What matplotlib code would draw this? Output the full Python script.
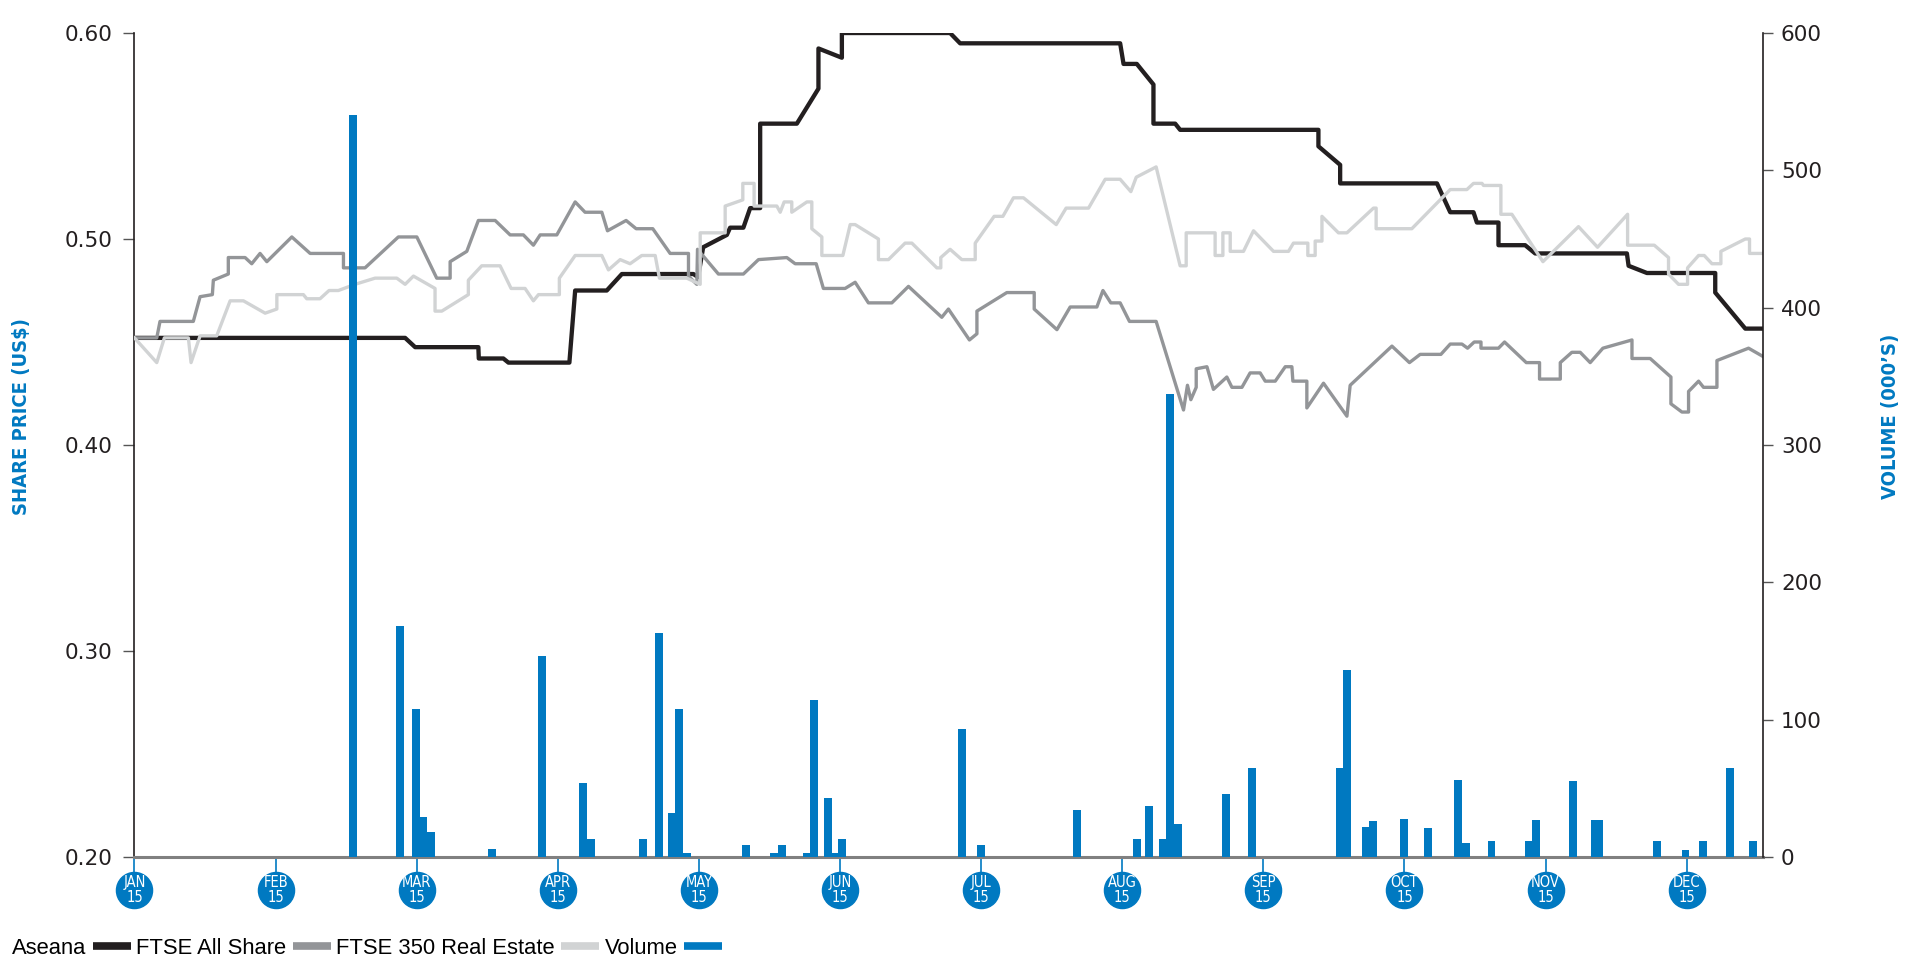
import matplotlib.pyplot as plt
from matplotlib.lines import Line2D

### values, x = months after 15 Jan (0 = JAN 15, 1 = FEB 15 ...)
aseana = [(0, 0.452), (1.918, 0.452), (1.989, 0.4475), (2.437, 0.4475), (2.44, 0.442),
          (2.614, 0.442), (2.650, 0.440), (3.082, 0.440), (3.123, 0.475), (3.347, 0.475),
          (3.454, 0.483), (3.961, 0.483), (3.994, 0.4815), (4.030, 0.496), (4.198, 0.502),
          (4.221, 0.5055), (4.315, 0.5055), (4.363, 0.515), (4.434, 0.515), (4.434, 0.556),
          (4.694, 0.556), (4.847, 0.573), (4.847, 0.5925), (5.013, 0.588), (5.013, 0.600),
          (5.780, 0.600), (5.851, 0.595), (6.985, 0.595), (7.009, 0.585), (7.103, 0.585),
          (7.221, 0.575), (7.221, 0.556), (7.375, 0.556), (7.410, 0.553), (8.390, 0.553),
          (8.390, 0.545), (8.544, 0.536), (8.544, 0.527), (9.230, 0.527), (9.324, 0.513),
          (9.489, 0.513), (9.513, 0.508), (9.666, 0.508), (9.666, 0.497), (9.855, 0.497),
          (9.926, 0.493), (10.576, 0.493), (10.588, 0.487), (10.718, 0.4835), (11.202, 0.4835),
          (11.202, 0.474), (11.415, 0.4565), (11.54, 0.4565)]

ftse_all = [(0, 0.452), (0.158, 0.452), (0.181, 0.460), (0.417, 0.460), (0.465, 0.472),
            (0.552, 0.473), (0.559, 0.480), (0.665, 0.483), (0.665, 0.491), (0.784, 0.491),
            (0.831, 0.488), (0.890, 0.493), (0.938, 0.489), (1.115, 0.501), (1.245, 0.493),
            (1.481, 0.493), (1.481, 0.486), (1.634, 0.486), (1.870, 0.501), (2.001, 0.501),
            (2.142, 0.481), (2.237, 0.481), (2.237, 0.489), (2.355, 0.494), (2.437, 0.509),
            (2.556, 0.509), (2.662, 0.502), (2.756, 0.502), (2.827, 0.497), (2.875, 0.502),
            (2.993, 0.502), (3.123, 0.518), (3.193, 0.513), (3.312, 0.513), (3.352, 0.504),
            (3.484, 0.509), (3.555, 0.505), (3.673, 0.505), (3.796, 0.493), (3.926, 0.493),
            (3.926, 0.482), (3.985, 0.478), (3.990, 0.495), (4.138, 0.483), (4.315, 0.483),
            (4.422, 0.490), (4.623, 0.491), (4.682, 0.488), (4.831, 0.488), (4.882, 0.476),
            (5.036, 0.476), (5.107, 0.479), (5.201, 0.469), (5.367, 0.469), (5.485, 0.477),
            (5.721, 0.462), (5.768, 0.466), (5.917, 0.451), (5.970, 0.454), (5.970, 0.465),
            (6.182, 0.474), (6.376, 0.474), (6.376, 0.466), (6.537, 0.456), (6.631, 0.467),
            (6.820, 0.467), (6.863, 0.475), (6.919, 0.469), (6.985, 0.469), (7.051, 0.460),
            (7.240, 0.460), (7.434, 0.417), (7.462, 0.429), (7.486, 0.422), (7.524, 0.428),
            (7.524, 0.437), (7.600, 0.438), (7.646, 0.427), (7.741, 0.433), (7.777, 0.428),
            (7.848, 0.428), (7.906, 0.435), (7.977, 0.435), (8.013, 0.431), (8.084, 0.431),
            (8.155, 0.438), (8.202, 0.438), (8.209, 0.431), (8.308, 0.431), (8.308, 0.418),
            (8.426, 0.430), (8.592, 0.414), (8.615, 0.429), (8.911, 0.448), (9.035, 0.440),
            (9.111, 0.444), (9.258, 0.444), (9.324, 0.449), (9.407, 0.449), (9.447, 0.447),
            (9.494, 0.450), (9.542, 0.450), (9.542, 0.447), (9.666, 0.447), (9.709, 0.450),
            (9.863, 0.440), (9.957, 0.440), (9.957, 0.432), (10.104, 0.432), (10.104, 0.440),
            (10.186, 0.445), (10.245, 0.445), (10.316, 0.440), (10.406, 0.447), (10.612, 0.451),
            (10.612, 0.442), (10.741, 0.442), (10.888, 0.433), (10.888, 0.420), (10.966, 0.416),
            (11.013, 0.416), (11.013, 0.426), (11.084, 0.431), (11.119, 0.428), (11.214, 0.428),
            (11.214, 0.441), (11.438, 0.447), (11.54, 0.443)]

ftse_re = [(0, 0.452), (0.158, 0.440), (0.212, 0.452), (0.382, 0.452), (0.401, 0.440),
           (0.465, 0.453), (0.583, 0.453), (0.678, 0.470), (0.772, 0.470), (0.926, 0.464),
           (1.009, 0.466), (1.009, 0.473), (1.197, 0.473), (1.221, 0.471), (1.315, 0.471),
           (1.379, 0.475), (1.445, 0.475), (1.563, 0.478), (1.705, 0.481), (1.859, 0.481),
           (1.918, 0.478), (1.977, 0.482), (2.130, 0.476), (2.130, 0.465), (2.178, 0.465),
           (2.366, 0.473), (2.366, 0.480), (2.461, 0.487), (2.591, 0.487), (2.669, 0.476),
           (2.768, 0.476), (2.827, 0.470), (2.863, 0.473), (3.011, 0.473), (3.011, 0.481),
           (3.123, 0.492), (3.312, 0.492), (3.359, 0.485), (3.442, 0.490), (3.512, 0.488),
           (3.595, 0.492), (3.690, 0.492), (3.720, 0.481), (3.914, 0.481), (4.009, 0.478),
           (4.009, 0.503), (4.186, 0.503), (4.186, 0.516), (4.311, 0.519), (4.311, 0.527),
           (4.391, 0.527), (4.391, 0.516), (4.552, 0.516), (4.576, 0.513), (4.604, 0.518),
           (4.658, 0.518), (4.658, 0.513), (4.765, 0.518), (4.800, 0.518), (4.800, 0.505),
           (4.871, 0.501), (4.871, 0.492), (5.020, 0.492), (5.072, 0.507), (5.107, 0.507),
           (5.272, 0.500), (5.272, 0.490), (5.343, 0.490), (5.461, 0.498), (5.509, 0.498),
           (5.686, 0.486), (5.714, 0.486), (5.714, 0.491), (5.780, 0.495), (5.863, 0.490),
           (5.958, 0.490), (5.958, 0.498), (6.092, 0.511), (6.154, 0.511), (6.229, 0.520),
           (6.300, 0.520), (6.532, 0.507), (6.602, 0.515), (6.761, 0.515), (6.879, 0.529),
           (6.985, 0.529), (7.061, 0.523), (7.099, 0.530), (7.240, 0.535), (7.410, 0.487),
           (7.453, 0.487), (7.453, 0.503), (7.658, 0.503), (7.658, 0.492), (7.713, 0.492),
           (7.713, 0.503), (7.765, 0.503), (7.765, 0.494), (7.859, 0.494), (7.930, 0.504),
           (8.072, 0.494), (8.178, 0.494), (8.213, 0.498), (8.315, 0.498), (8.315, 0.492),
           (8.367, 0.492), (8.367, 0.499), (8.415, 0.499), (8.415, 0.511), (8.532, 0.503),
           (8.592, 0.503), (8.686, 0.509), (8.780, 0.515), (8.799, 0.515), (8.799, 0.505),
           (9.052, 0.505), (9.324, 0.524), (9.442, 0.524), (9.489, 0.527), (9.549, 0.527),
           (9.560, 0.526), (9.683, 0.526), (9.683, 0.512), (9.761, 0.512), (9.981, 0.489),
           (10.233, 0.506), (10.368, 0.496), (10.581, 0.512), (10.581, 0.497), (10.770, 0.497),
           (10.871, 0.491), (10.871, 0.483), (10.942, 0.478), (11.006, 0.478), (11.006, 0.486),
           (11.084, 0.492), (11.124, 0.492), (11.179, 0.488), (11.242, 0.488), (11.242, 0.494),
           (11.415, 0.500), (11.445, 0.500), (11.445, 0.493), (11.54, 0.493)]

# volume in 000's
volume = [(1.547, 540), (1.882, 168), (1.996, 108), (2.048, 29), (2.100, 18),
          (2.534, 6), (2.889, 146), (3.177, 54), (3.234, 13), (3.602, 13),
          (3.716, 163), (3.805, 32), (3.858, 108), (3.914, 3), (4.335, 9),
          (4.533, 3), (4.590, 9), (4.765, 3), (4.816, 114), (4.916, 43),
          (4.965, 3), (5.015, 13), (5.865, 93), (5.998, 9), (6.678, 34),
          (7.104, 13), (7.189, 37), (7.285, 13), (7.340, 337), (7.394, 24),
          (7.736, 46), (7.921, 65), (8.542, 65), (8.594, 136), (8.724, 22),
          (8.776, 26), (8.998, 28), (9.168, 21), (9.381, 56), (9.434, 10),
          (9.617, 12), (9.881, 12), (9.933, 27), (10.194, 55), (10.349, 27),
          (10.381, 27), (10.788, 12), (10.992, 5), (11.113, 12), (11.305, 65),
          (11.468, 12)]

months = ['JAN', 'FEB', 'MAR', 'APR', 'MAY', 'JUN', 'JUL', 'AUG', 'SEP', 'OCT', 'NOV', 'DEC']
year = '15'
price_ticks = [0.20, 0.30, 0.40, 0.50, 0.60]
vol_ticks = [0, 100, 200, 300, 400, 500, 600]

BLUE = '#0079C1'
BLACK = '#231F20'
DARK = '#939598'
LIGHT = '#D1D3D4'

fig = plt.figure(figsize=(19.1, 9.57), dpi=100)
ax = fig.add_axes([0.0704, 0.1045, 0.8526, 0.8610])
ax2 = ax.twinx()

### lines
x, y = zip(*aseana)
ax.plot(x, y, color=BLACK, lw=3.1, zorder=2)
x, y = zip(*ftse_all)
ax.plot(x, y, color=DARK, lw=2.4, zorder=3)
x, y = zip(*ftse_re)
ax.plot(x, y, color=LIGHT, lw=2.4, zorder=4)

### volume bars
vx, vy = zip(*volume)
ax2.bar(vx, vy, width=0.055, color=BLUE, zorder=3)

ax.set_xlim(0, 11.54)
ax.set_ylim(0.2, 0.6)
ax2.set_ylim(0, 600)

ax.set_yticks(price_ticks)
ax.set_yticklabels([f'{v:.2f}' for v in price_ticks])
ax2.set_yticks(vol_ticks)
ax2.set_yticklabels([str(v) for v in vol_ticks])

ax.tick_params(axis='y', direction='out', length=8, width=1, color='#555555',
               labelsize=15.5, labelcolor=BLACK, pad=8)
ax2.tick_params(axis='y', direction='out', length=7, width=1, color='#555555',
                labelsize=15.5, labelcolor=BLACK, pad=6)
ax.set_xticks(range(12))
ax.set_xticklabels([])
ax.tick_params(axis='x', direction='out', length=12, width=1.2, color=BLUE)

for s in ['top', 'right']:
    ax.spines[s].set_visible(False)
for s in ['top', 'left', 'bottom']:
    ax2.spines[s].set_visible(False)
ax.spines['left'].set_color(BLACK)
ax.spines['left'].set_linewidth(1.2)
ax.spines['bottom'].set_color('#808080')
ax.spines['bottom'].set_linewidth(2.2)
ax2.spines['right'].set_color(BLACK)
ax2.spines['right'].set_linewidth(1.2)

### month badges under the axis
trans = ax.get_xaxis_transform()
ax.plot(range(12), [-0.040] * 12, 'o', ms=26, color=BLUE, transform=trans,
        clip_on=False, zorder=5)
for i, m in enumerate(months):
    ax.text(i, -0.0305, m, transform=trans, ha='center', va='center', color='white',
            fontsize=10.5, family='DejaVu Sans', fontstretch='condensed', zorder=6)
    ax.text(i, -0.0495, year, transform=trans, ha='center', va='center', color='white',
            fontsize=10.5, family='DejaVu Sans', fontstretch='condensed', zorder=6)

### axis titles
fig.text(0.0115, 0.565, 'SHARE PRICE (US$)', rotation=90, ha='center', va='center',
         color=BLUE, fontsize=14.5, fontweight='bold', family='DejaVu Sans',
         fontstretch='condensed')
fig.text(0.990, 0.565, 'VOLUME (000\u2019S)', rotation=90, ha='center', va='center',
         color=BLUE, fontsize=14.5, fontweight='bold', family='DejaVu Sans',
         fontstretch='condensed')

### legend: label then swatch
handles = [Line2D([], [], color=c, lw=5.5, solid_capstyle='butt')
           for c in [BLACK, DARK, LIGHT, BLUE]]
labels = ['Aseana', 'FTSE All Share', 'FTSE 350 Real Estate', 'Volume']
fig.legend(handles, labels, loc='center left', bbox_to_anchor=(0.0063, 1 - 948 / 957),
           ncol=4, frameon=False, markerfirst=False, handlelength=1.72,
           handletextpad=0.3, columnspacing=0.25, borderpad=0, borderaxespad=0,
           prop={'family': ['Liberation Sans', 'DejaVu Sans'], 'size': 15.8})

fig.savefig('out.png', dpi=100)
